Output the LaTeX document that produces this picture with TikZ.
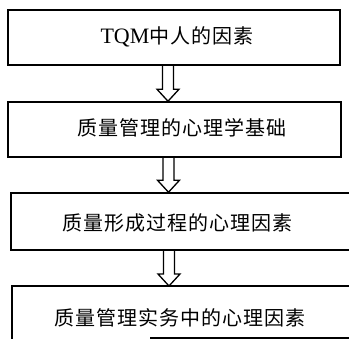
\documentclass[tikz,border=0pt]{standalone}
\usepackage{fontspec}
\setmainfont{Liberation Serif}
\newfontfamily\cjk[LetterSpace=5]{Noto Sans CJK SC}
\usetikzlibrary{calc}
\tikzset{
  boxnode/.style={draw=black, line width=1.5pt, inner sep=0pt},
  txt/.style={font=\fontsize{20pt}{24pt}\selectfont, inner sep=0pt, anchor=center},
  harr/.style={draw=black, line width=1.3pt, line join=miter},
}
\newcommand{\harrow}[2]{%
  \draw[harr] let \p1=(#1), \p2=(#2) in
    (\x1-5.5pt,\y1) -- (\x1-5.5pt,\y2+12pt) -- (\x1-11pt,\y2+12pt) -- (\x2,\y2)
    -- (\x1+11pt,\y2+12pt) -- (\x1+5.5pt,\y2+12pt) -- (\x1+5.5pt,\y1);}
\begin{document}
\begin{tikzpicture}[x=1pt,y=-1pt]
\useasboundingbox (0,0) rectangle (349,339);
% boxes
\node[boxnode, minimum width=332pt, minimum height=55pt] (b1) at (174,37.5) {};
\node[boxnode, minimum width=333pt, minimum height=55pt] (b2) at (174.5,129.5) {};
\node[boxnode, minimum width=341pt, minimum height=57pt] (b3) at (181.5,221.5) {};
\coordinate (b4nw) at (12,286);
\coordinate (b4ne) at (355,286);
\coordinate (b4sw) at (12,342);
\coordinate (b4bl) at (150,338);
\coordinate (b4br) at (355,338);
\draw[line width=1.5pt] (b4sw) -- (b4nw) -- (b4ne);
\draw[line width=1.5pt] (b4bl) -- (b4br);
% texts
\node[txt] (t1) at (177,37) {{\fontsize{22pt}{24pt}\selectfont TQM}{\cjk 中人的因素}};
\node[txt] (t2) at (182,128) {\cjk 质量管理的心理学基础};
\node[txt] (t3) at (178,223) {\cjk 质量形成过程的心理因素};
\node[txt] (t4) at (180,318) {\cjk 质量管理实务中的心理因素};
% arrows
\coordinate (c1) at (168,0);
\coordinate (c2) at (168.5,0);
\coordinate (c3) at (169,0);
\harrow{b1.south -| c1}{b2.north -| c1}
\harrow{b2.south -| c2}{b3.north -| c2}
\harrow{b3.south -| c3}{b4nw -| c3}
\end{tikzpicture}
\end{document}
